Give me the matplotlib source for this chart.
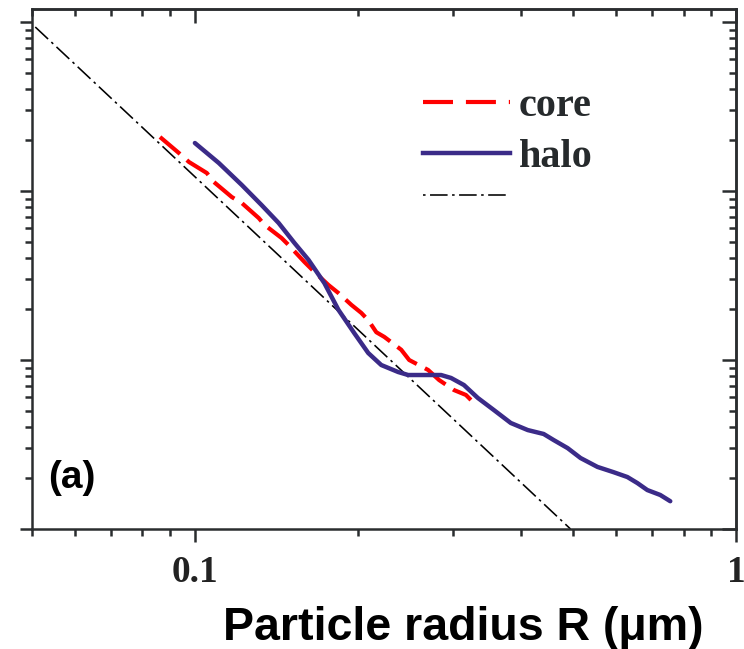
import numpy as np
import matplotlib
matplotlib.use("Agg")
import matplotlib.pyplot as plt
from matplotlib.ticker import LogLocator, NullFormatter, FixedLocator, FixedFormatter
from matplotlib.lines import Line2D

# ---- data (y in arbitrary units) ----
core_R = [0.0862, 0.0934, 0.0975, 0.1052, 0.1084, 0.1170, 0.1221, 0.1312, 0.1346,
          0.1446, 0.1490, 0.1594, 0.1663, 0.1765, 0.1842, 0.1946, 0.2030, 0.2091,
          0.2164, 0.2239, 0.2406, 0.2489, 0.2698, 0.2827, 0.3012, 0.3169, 0.3237]
core_y = [208.7, 167.9, 148.5, 127.8, 113.1, 92.1, 84.9, 69.2, 62.9,
          52.7, 47.9, 38.0, 33.2, 27.8, 24.9, 21.2, 19.0, 17.2,
          14.6, 13.7, 11.5, 10.0, 8.73, 7.61, 6.64, 6.21, 5.80]

halo_R = [0.1000, 0.1107, 0.1221, 0.1328, 0.1428, 0.1528, 0.1622, 0.1735, 0.1842,
          0.1971, 0.2091, 0.2210, 0.2375, 0.2478, 0.2851, 0.2974, 0.3142, 0.3334,
          0.3568, 0.3835, 0.4122, 0.4411, 0.4603, 0.4885, 0.5161, 0.5546, 0.5936,
          0.6299, 0.6572, 0.6857, 0.7244, 0.7560]
halo_y = [192.3, 146.5, 108.5, 82.6, 64.7, 49.2, 39.1, 28.5, 19.8,
          14.4, 11.0, 9.34, 8.49, 8.15, 8.15, 7.83, 7.11, 5.96,
          5.06, 4.24, 3.85, 3.65, 3.36, 3.01, 2.63, 2.33, 2.17,
          2.03, 1.87, 1.70, 1.59, 1.46]

ref_R = [0.0507, 0.4945]
ref_y = [934.0, 1.0]

legend_labels = ["core", "halo"]
ref_label = ""
xtick_vals = [0.1, 1]
xtick_labels = ["0.1", "1"]
xlabel = "Particle radius R (\u03bcm)"
panel_label = "(a)"

# ---- style ----
halo_color = "#3b2b88"
core_color = "#ff0000"
axis_color = "#2a2d2f"
sans_bold = dict(family="Liberation Sans", weight="bold")
leg_font = dict(family="Liberation Serif", weight="bold", size=29)

fig = plt.figure(figsize=(7.44, 6.49), dpi=100)
ax = fig.add_axes([32 / 744, 120 / 649, 704 / 744, 519.7 / 649])
ax.set_xscale("log")
ax.set_yscale("log")
ax.set_xlim(0.05, 1.0)
ax.set_ylim(1.0, 1189.0)

l_ref, = ax.plot(ref_R, ref_y, color="black", lw=1.15,
                 linestyle=(0, (11, 2.8, 1.6, 2.8)), zorder=2)
l_core, = ax.plot(core_R, core_y, color=core_color, lw=3.0,
                  linestyle=(0, (6.3, 2.2)), solid_capstyle="butt", zorder=3)
l_halo, = ax.plot(halo_R, halo_y, color=halo_color, lw=3.2,
                  solid_capstyle="round", zorder=4)

for s in ax.spines.values():
    s.set_color(axis_color)
    s.set_linewidth(1.8)

ax.xaxis.set_major_locator(FixedLocator(xtick_vals))
ax.xaxis.set_major_formatter(FixedFormatter(xtick_labels))
ax.xaxis.set_minor_locator(LogLocator(base=10, subs=np.arange(2, 10), numticks=20))
ax.xaxis.set_minor_formatter(NullFormatter())
ax.yaxis.set_major_locator(LogLocator(base=10, numticks=20))
ax.yaxis.set_minor_locator(LogLocator(base=10, subs=np.arange(2, 10), numticks=20))
ax.yaxis.set_major_formatter(NullFormatter())
ax.yaxis.set_minor_formatter(NullFormatter())

ax.tick_params(which="both", direction="out", top=False, right=False,
               color=axis_color, width=1.8)
ax.tick_params(which="major", length=9)
ax.tick_params(which="minor", length=5)
ax.tick_params(axis="x", pad=10, labelsize=27, labelcolor="#222222")
for lab in ax.get_xticklabels():
    lab.set_fontfamily("Liberation Serif")
    lab.set_fontweight("bold")

# inward ticks on top and right
secx = ax.secondary_xaxis("top")
secx.xaxis.set_major_locator(FixedLocator(xtick_vals))
secx.xaxis.set_minor_locator(LogLocator(base=10, subs=np.arange(2, 10), numticks=20))
secx.xaxis.set_major_formatter(NullFormatter())
secx.xaxis.set_minor_formatter(NullFormatter())
secx.tick_params(which="both", direction="in", color=axis_color, width=1.8)
secx.tick_params(which="major", length=10)
secx.tick_params(which="minor", length=5)
secx.spines["top"].set_color(axis_color)
secx.spines["top"].set_linewidth(1.8)

secy = ax.secondary_yaxis("right")
secy.yaxis.set_major_locator(LogLocator(base=10, numticks=20))
secy.yaxis.set_minor_locator(LogLocator(base=10, subs=np.arange(2, 10), numticks=20))
secy.yaxis.set_major_formatter(NullFormatter())
secy.yaxis.set_minor_formatter(NullFormatter())
secy.tick_params(which="both", direction="in", color=axis_color, width=1.8)
secy.tick_params(which="major", length=10)
secy.tick_params(which="minor", length=5)
secy.spines["right"].set_color(axis_color)
secy.spines["right"].set_linewidth(1.8)

# legend (two parts so the unlabeled dash-dot sample sits closer)
h_core = Line2D([], [], color=core_color, lw=3.0, linestyle=(0, (7.2, 3.1)),
                solid_capstyle="butt")
h_halo = Line2D([], [], color=halo_color, lw=3.2)
h_ref = Line2D([], [], color="black", lw=1.15, linestyle=(13.8, (11, 2.8, 1.6, 2.8)))
common = dict(loc="upper left", frameon=False, borderpad=0, borderaxespad=0,
              handlelength=2.15, handletextpad=0.23, prop=leg_font)
leg1 = ax.legend([h_core, h_halo], legend_labels,
                 bbox_to_anchor=((423 - 32) / 704, (529 - 88) / 519.7),
                 labelspacing=0.34, **common)
for t in leg1.get_texts():
    t.set_color("#262a2c")
ax.add_artist(leg1)
leg2 = ax.legend([h_ref], [ref_label],
                 bbox_to_anchor=((423 - 32) / 704, (529 - 181) / 519.7),
                 **common)

ax.text((48 - 32) / 704, (529 - 488) / 519.7, panel_label, transform=ax.transAxes,
        fontsize=28, ha="left", va="baseline", color="black", **sans_bold)

fig.text(463 / 744, 1 - 640 / 649, xlabel, ha="center", va="baseline",
         fontsize=33.5, color="black", **sans_bold)

fig.savefig("out.png", dpi=100)
